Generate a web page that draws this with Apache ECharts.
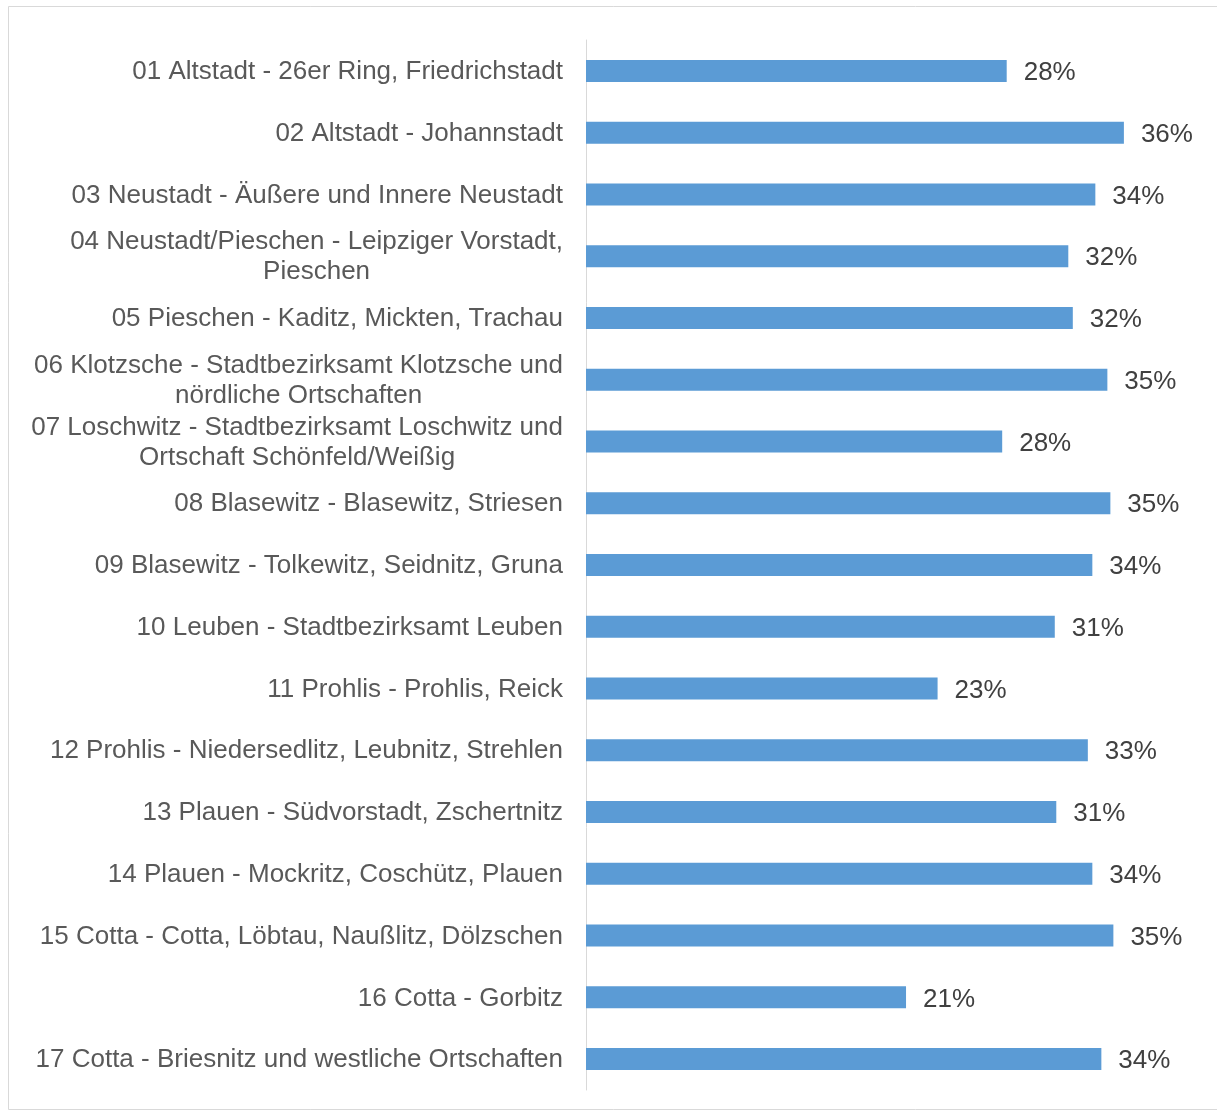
<!DOCTYPE html>
<html>
<head>
<meta charset="utf-8">
<script src="https://cdn.jsdelivr.net/npm/echarts@6/dist/echarts.min.js"></script>
<style>
  html, body { margin: 0; padding: 0; background: #fff; }
</style>
</head>
<body>
<div id="main" style="width:1217px;height:1113px;"></div>
<script type="text/javascript">
    // Stadtbezirke / Ortschaften
    var categories = [
        '01 Altstadt - 26er Ring, Friedrichstadt',
        '02 Altstadt - Johannstadt',
        '03 Neustadt - Äußere und Innere Neustadt',
        '04 Neustadt/Pieschen - Leipziger Vorstadt,\nPieschen',
        '05 Pieschen - Kaditz, Mickten, Trachau',
        '06 Klotzsche - Stadtbezirksamt Klotzsche und\nnördliche Ortschaften',
        '07 Loschwitz - Stadtbezirksamt Loschwitz und\nOrtschaft Schönfeld/Weißig',
        '08 Blasewitz - Blasewitz, Striesen',
        '09 Blasewitz - Tolkewitz, Seidnitz, Gruna',
        '10 Leuben - Stadtbezirksamt Leuben',
        '11 Prohlis - Prohlis, Reick',
        '12 Prohlis - Niedersedlitz, Leubnitz, Strehlen',
        '13 Plauen - Südvorstadt, Zschertnitz',
        '14 Plauen - Mockritz, Coschütz, Plauen',
        '15 Cotta - Cotta, Löbtau, Naußlitz, Dölzschen',
        '16 Cotta - Gorbitz',
        '17 Cotta - Briesnitz und westliche Ortschaften'
    ];
    // Anteile in %
    var values = [28.0, 35.8, 33.9, 32.1, 32.4, 34.7, 27.7, 34.9, 33.7, 31.2, 23.4, 33.4, 31.3, 33.7, 35.1, 21.3, 34.3];

    var myChart = echarts.init(document.getElementById('main'));
    var font = '"Liberation Sans", Arial, sans-serif';

    var option = {
        animation: false,
        backgroundColor: '#fff',
        graphic: [{
            type: 'rect',
            shape: { x: 8.5, y: 6.5, width: 1220, height: 1103 },
            style: { fill: 'none', stroke: '#d9d9d9', lineWidth: 1 },
            silent: true
        }],
        grid: { left: 586, right: 30, top: 40, bottom: 23 },
        xAxis: {
            type: 'value',
            min: 0,
            max: 40,
            show: false,
            splitLine: { show: false }
        },
        yAxis: {
            type: 'category',
            inverse: true,
            data: categories,
            axisLine: { show: true, lineStyle: { color: '#d9d9d9', width: 1 } },
            axisTick: { show: false },
            axisLabel: {
                margin: 23,
                interval: 0,
                formatter: function (v) {
                    return v.split('\n').map(function (s) { return '{c|' + s + '}'; }).join('\n');
                },
                rich: {
                    c: {
                        align: 'center',
                        fontFamily: font,
                        fontSize: 26,
                        lineHeight: 30,
                        color: '#595959',
                        padding: [2, 0, 0, 0]
                    }
                }
            }
        },
        series: [{
            type: 'bar',
            data: values,
            barWidth: 22,
            itemStyle: { color: '#5b9bd5' },
            label: {
                show: true,
                position: 'right',
                distance: 17,
                offset: [0, 2],
                fontFamily: font,
                fontSize: 26,
                color: '#404040',
                formatter: function (p) { return Math.round(p.value) + '%'; }
            }
        }]
    };

    myChart.setOption(option);
</script>
</body>
</html>
